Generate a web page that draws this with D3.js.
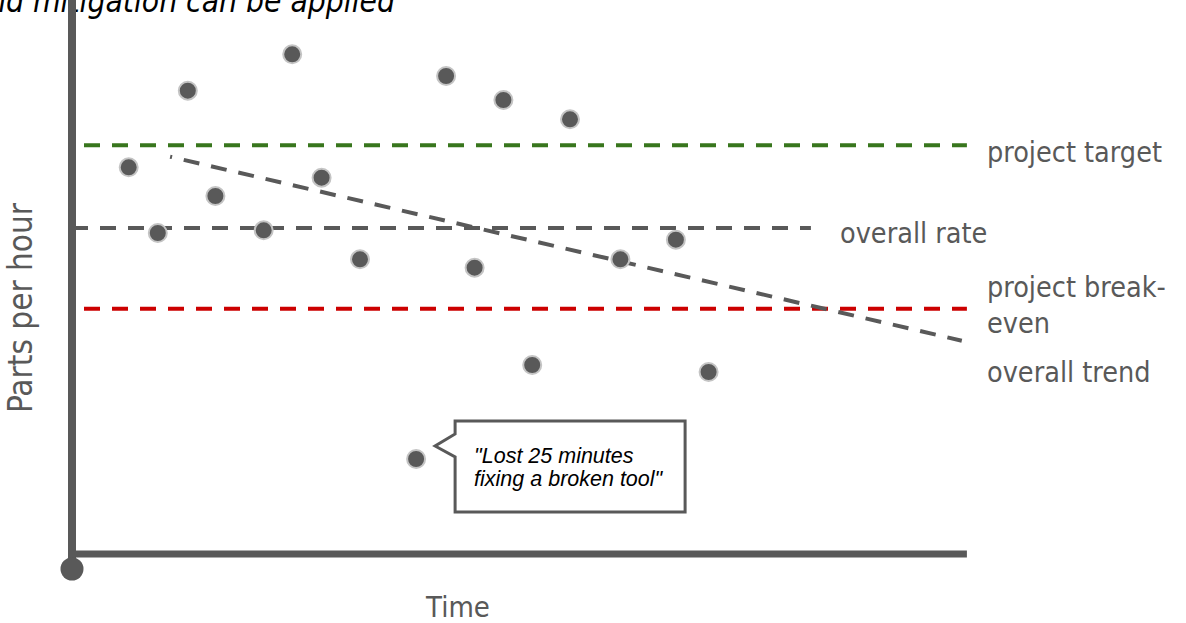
<!DOCTYPE html>
<html>
<head>
<meta charset="utf-8">
<script src="https://cdn.jsdelivr.net/npm/d3@7"></script>
<style>
  html, body { margin: 0; padding: 0; background: #ffffff; overflow: hidden; }
  svg { display: block; }
</style>
</head>
<body>
<div id="chart"></div>
<script>
// ---- data ----
const titleText = "and mitigation can be applied";
const xAxisLabel = "Time";
const yAxisLabel = "Parts per hour";

// observation points: time index, parts per hour
const obsTime  = [1.89, 2.86, 3.86, 4.78, 6.39, 7.34, 8.32, 9.60, 11.47, 12.47, 13.42, 14.38, 15.34, 16.60, 18.28, 20.13, 21.22];
const obsRate  = [38.67, 32.1, 46.33, 35.8, 32.37, 49.97, 37.63, 29.47, 9.5, 47.8, 28.63, 45.4, 18.9, 43.47, 29.47, 31.43, 18.2];

// reference lines
const refNames  = ["project target", "overall rate", "project break-even"];
const refValues = [40.87, 32.6, 24.53];
const refStart  = [0.4, 0.0, 0.4];
const refEnd    = [29.83, 24.63, 29.83];

// trend line endpoints
const trendTime = [3.27, 29.66];
const trendRate = [39.73, 21.33];

// annotation
const noteIndex = 8;
const noteLines = ["\"Lost 25 minutes", "fixing a broken tool\""];

// ---- layout ----
const W = 1186, H = 623;
const gray = "#595959", green = "#38761d", red = "#cc0000";
const labelFont = "'DejaVu Sans Condensed', 'DejaVu Sans', sans-serif";

const svg = d3.select("#chart").append("svg").attr("width", W).attr("height", H);

const x = d3.scaleLinear().domain([0, 30]).range([72, 972]);
const y = d3.scaleLinear().domain([0, 50]).range([554, 54]);

// title (cropped at the top of the frame, as in the reference)
svg.append("text")
  .attr("x", 395).attr("y", 12)
  .attr("text-anchor", "end")
  .attr("font-family", labelFont)
  .attr("font-style", "italic")
  .attr("font-size", 31.5)
  .attr("fill", "#000")
  .text(titleText);

// reference lines
const refColors = [green, gray, red];
refValues.forEach((v, i) => {
  svg.append("line")
    .attr("x1", x(refStart[i])).attr("x2", x(refEnd[i]))
    .attr("y1", y(v)).attr("y2", y(v))
    .attr("stroke", refColors[i])
    .attr("stroke-width", 4)
    .attr("stroke-dasharray", "16,12");
});

// trend line
svg.append("line")
  .attr("x1", x(trendTime[0])).attr("y1", y(trendRate[0]))
  .attr("x2", x(trendTime[1])).attr("y2", y(trendRate[1]))
  .attr("stroke", gray)
  .attr("stroke-width", 4)
  .attr("stroke-dasharray", "16,12")
  .attr("stroke-dashoffset", 14);

// axes
svg.append("line")
  .attr("x1", x(0)).attr("x2", x(0))
  .attr("y1", -5).attr("y2", 569)
  .attr("stroke", gray).attr("stroke-width", 8);
svg.append("line")
  .attr("x1", x(0)).attr("x2", x(29.83))
  .attr("y1", y(0)).attr("y2", y(0))
  .attr("stroke", gray).attr("stroke-width", 7);
svg.append("circle")
  .attr("cx", x(0)).attr("cy", 569).attr("r", 11.5)
  .attr("fill", gray);

// points
svg.selectAll("circle.obs")
  .data(obsTime.map((t, i) => ({ t, v: obsRate[i] })))
  .enter().append("circle")
  .attr("class", "obs")
  .attr("cx", d => x(d.t))
  .attr("cy", d => y(d.v))
  .attr("r", 9)
  .attr("fill", gray)
  .attr("stroke", "#c4c4c4")
  .attr("stroke-width", 2);

// callout
const px = x(obsTime[noteIndex]), py = y(obsRate[noteIndex]);
const bx0 = px + 39, bx1 = px + 269, by0 = py - 38, by1 = py + 53;
const tipX = px + 19, tipY = py - 13;
const calloutPath = [
  [bx0, by0], [bx1, by0], [bx1, by1], [bx0, by1],
  [bx0, tipY + 11], [tipX, tipY], [bx0, tipY - 12]
];
svg.append("path")
  .attr("d", d3.line()(calloutPath) + "Z")
  .attr("fill", "#fff")
  .attr("stroke", gray)
  .attr("stroke-width", 3)
  .attr("stroke-linejoin", "miter");
noteLines.forEach((s, i) => {
  svg.append("text")
    .attr("x", bx0 + 19).attr("y", py + 4 + i * 23)
    .attr("font-family", "'Liberation Sans', Arial, sans-serif")
    .attr("font-style", "italic")
    .attr("font-size", 21.5)
    .attr("fill", "#000")
    .text(s);
});

// line labels
const lbl = (tx, ty, s) => svg.append("text")
  .attr("x", tx).attr("y", ty)
  .attr("font-family", labelFont)
  .attr("font-size", 28.5)
  .attr("fill", gray)
  .text(s);
lbl(987, y(refValues[0]) + 17, refNames[0]);
lbl(840, y(refValues[1]) + 15, refNames[1]);
lbl(987, y(refValues[2]) - 12, "project break-");
lbl(987, y(refValues[2]) + 24, "even");
lbl(987, y(trendRate[1]) + 41, "overall trend");

// axis titles
svg.append("text")
  .attr("x", 458).attr("y", 617)
  .attr("text-anchor", "middle")
  .attr("font-family", labelFont)
  .attr("font-size", 29)
  .attr("fill", gray)
  .text(xAxisLabel);
svg.append("text")
  .attr("transform", "translate(32,308) rotate(-90)")
  .attr("text-anchor", "middle")
  .attr("font-family", labelFont)
  .attr("font-size", 33)
  .attr("fill", gray)
  .text(yAxisLabel);
</script>
</body>
</html>
